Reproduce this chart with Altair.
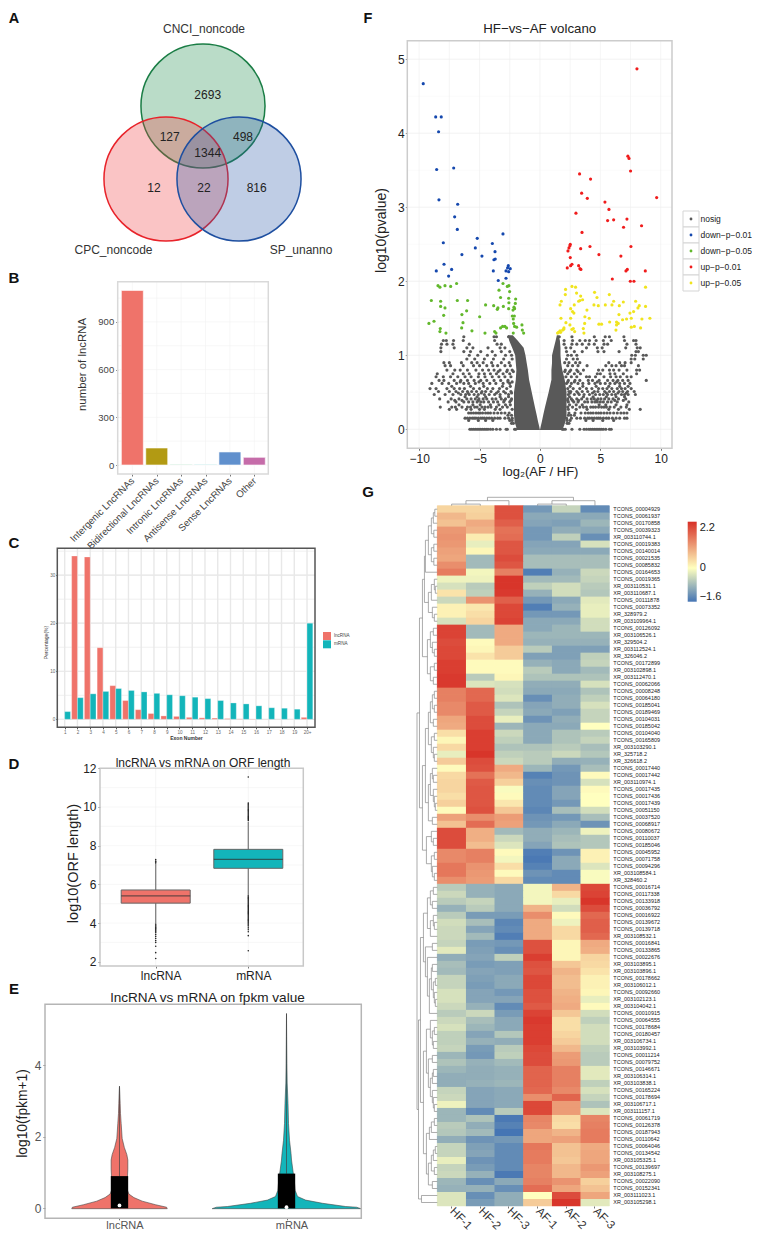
import altair as alt
import pandas as pd

FONT = "Liberation Sans"

# ---------- A: Venn ----------
venn_sets = ["CNCI_noncode", "CPC_noncode", "SP_unanno"]
venn_counts = ["2693", "127", "498", "1344", "12", "22", "816"]

# ---------- B ----------
b_cats = ["Intergenic LncRNAs", "Bidirectional LncRNAs", "Intronic LncRNAs",
          "Antisense LncRNAs", "Sense LncRNAs", "Other"]
b_vals = [1098, 107, 2, 2, 82, 48]
b_cols = ["#EF736A", "#B29A13", "#3DBB77", "#26BDB9", "#6090CD", "#C56CA9"]

# ---------- C ----------
c_cats = [str(i) for i in range(1, 20)] + ["20+"]
c_lnc = [0, 34, 33.8, 14.9, 7, 3.9, 2, 1.2, 0.7, 0.6, 0.4, 0.3, 0.25, 0.15, 0.08, 0.06, 0.03, 0.03, 0.02, 0.4]
c_mrna = [1.6, 4.5, 5.3, 5.8, 6.4, 6, 5.7, 5.4, 5.1, 4.9, 4.6, 4.3, 3.9, 3.4, 3.2, 2.8, 2.4, 2.3, 2.1, 20]

# ---------- D ----------
d_cats = ["lncRNA", "mRNA"]
d_q1 = [5.03, 6.83]
d_med = [5.40, 7.29]
d_q3 = [5.71, 7.81]
d_lo = [4.0, 5.4]
d_hi = [7.05, 9.24]
d_out_lnc = [7.1, 7.15, 7.2, 7.28, 3.95, 3.9, 3.85, 3.8, 3.75, 3.7, 3.65, 3.6, 3.55, 3.5, 3.4, 3.3, 3.2, 3.1, 3.0, 2.8, 2.47, 2.17]
d_out_mrna = [9.3, 9.35, 9.4, 9.45, 9.5, 9.55, 9.6, 9.65, 9.7, 9.75, 9.8, 9.85, 9.9, 9.95, 10.0, 10.05, 10.1, 10.15, 10.2, 11.55,
              5.4, 5.35, 5.3, 5.25, 5.2, 5.15, 5.1, 5.05, 5.0, 4.95, 4.9, 4.85, 4.8, 4.75, 4.7, 4.65, 4.6, 4.55, 4.5, 4.45,
              4.4, 4.35, 4.3, 4.25, 4.2, 4.15, 4.1, 4.05, 4.0, 3.95, 3.9, 3.85, 3.75, 3.65, 3.55, 3.35, 2.57]

# ---------- E ----------
e_lnc_y = [-0.01, 0.03, 0.1, 0.2, 0.3, 0.4, 0.5, 0.7, 0.9, 1.1, 1.35, 1.5, 1.7, 1.95, 2.37, 2.65, 2.93, 3.2, 3.41]
e_lnc_w = [0.286, 0.282, 0.216, 0.136, 0.086, 0.056, 0.048, 0.048, 0.048, 0.05, 0.05, 0.044, 0.029, 0.016, 0.010, 0.006, 0.004, 0.002, 0]
e_mrna_y = [-0.01, 0.03, 0.05, 0.14, 0.23, 0.33, 0.5, 0.7, 0.93, 1.35, 1.53, 1.9, 2.37, 2.93, 3.5, 4.05, 4.8, 5.44]
e_mrna_w = [0.445, 0.42, 0.354, 0.216, 0.114, 0.066, 0.052, 0.048, 0.042, 0.03, 0.027, 0.018, 0.012, 0.009, 0.004, 0.0024, 0.001, 0]
e_q3 = [0.9, 0.97]
e_med = [0.08, 0.03]
e_top = [3.41, 5.44]

# ---------- F: volcano ----------
f_blue = [(-9.66,4.67),(-8.63,4.22),(-8.17,4.22),(-8.39,4.02),(-8.55,3.51),(-7.14,3.53),(-8.36,3.10),(-6.81,3.04),
          (-7.06,2.87),(-6.84,2.70),(-5.19,2.58),(-3.06,2.64),(-8.0,2.52),(-5.35,2.45),(-3.94,2.51),(-3.72,2.40),
          (-6.46,2.36),(-4.8,2.34),(-3.70,2.30),(-3.81,2.29),(-7.94,2.23),(-2.62,2.21),(-8.58,2.14),(-7.31,2.16),
          (-3.86,2.14),(-2.68,2.18),(-2.46,2.17),(-2.81,2.14),(-2.59,2.13),(-7.56,2.07),(-2.81,2.04),(-3.45,2.01)]
f_red = [(8.03,4.87),(7.28,3.69),(7.37,3.66),(7.5,3.49),(3.28,3.45),(4.19,3.38),(3.45,3.19),(3.92,3.12),(9.66,3.13),
         (5.38,3.07),(5.71,2.97),(2.98,2.92),(5.6,2.82),(6.1,2.83),(7.2,2.84),(8.41,2.75),(6.92,2.73),(3.48,2.66),
         (2.51,2.50),(2.48,2.48),(4.14,2.47),(3.37,2.44),(2.4,2.45),(2.32,2.41),(7.53,2.47),(4.88,2.36),(6.7,2.34),
         (2.51,2.32),(2.65,2.23),(2.54,2.21),(3.2,2.21),(2.26,2.18),(3.31,2.17),(3.39,2.16),(7.23,2.16),(7.12,2.14),
         (8.72,2.14),(5.99,2.03),(7.48,2.0),(7.78,2.0)]
f_green = [(-8.44,1.94),(-8.28,1.92),(-7.86,1.94),(-7.39,1.93),(-6.90,1.97),(-8.99,1.74),(-8.22,1.73),(-6.84,1.74),
           (-5.99,1.74),(-8.22,1.66),(-7.86,1.64),(-6.07,1.60),(-6.46,1.55),(-7.97,1.54),(-8.77,1.46),(-9.19,1.43),
           (-6.37,1.44),(-6.48,1.37),(-8.25,1.36),(-8.28,1.32),(-7.78,1.30),(-5.63,1.33),(-4.99,1.52),(-4.50,1.68),
           (-4.55,1.30),(-3.83,1.67),(-3.48,1.64),(-3.03,1.66),(-2.59,1.63),(-3.06,1.97),(-2.70,1.93),(-2.57,1.94),
           (-3.39,1.88),(-2.51,1.86),(-3.26,1.78),(-2.59,1.77),(-2.01,1.76),(-2.57,1.71),(-2.04,1.70),(-2.15,1.65),
           (-2.10,1.63),(-2.23,1.61),(-2.29,1.53),(-2.12,1.53),(-2.21,1.49),(-2.10,1.39),(-2.18,1.43),(-1.93,1.38),
           (-1.49,1.41),(-1.46,1.34),(-1.35,1.30),(-2.21,1.30),(-3.75,1.32),(-3.64,1.30),(-3.09,1.39),(-2.90,1.39),
           (-2.76,1.37),(-3.26,1.37),(-3.53,1.62)]
f_yellow = [(2.65,1.93),(2.95,1.92),(2.12,1.89),(2.10,1.82),(3.03,1.84),(3.37,1.80),(4.52,1.85),(5.74,1.82),(4.72,1.78),
            (1.77,1.73),(1.66,1.68),(3.53,1.75),(3.31,1.74),(3.20,1.73),(2.84,1.68),(2.54,1.63),(2.70,1.59),(2.81,1.57),
            (3.89,1.61),(3.72,1.52),(4.08,1.50),(4.47,1.68),(4.83,1.67),(5.41,1.68),(6.10,1.73),(5.96,1.68),(6.90,1.72),
            (7.92,1.73),(6.57,1.67),(8.22,1.67),(8.11,1.64),(8.74,1.66),(7.75,1.59),(7.45,1.57),(6.54,1.55),(5.77,1.45),
            (6.34,1.45),(6.48,1.43),(6.34,1.41),(6.84,1.48),(7.17,1.49),(7.56,1.50),(8.44,1.49),(9.10,1.50),(7.56,1.38),
            (7.81,1.39),(8.33,1.37),(6.29,1.34),(4.88,1.42),(5.10,1.42),(3.70,1.43),(2.54,1.50),(1.74,1.50),(2.15,1.44),
            (1.99,1.37),(1.88,1.34),(2.65,1.35),(2.76,1.36),(2.48,1.41),(2.87,1.32),(3.64,1.30),(1.66,1.33),(1.54,1.31),
            (1.71,1.31),(1.46,1.30),(1.96,1.35),(3.59,1.36),(8.74,1.92)]
# grey points too dense to separate form a solid core: (log10p, left edge, right edge)
f_core_left = [(-0.01,-1.9,0.0),(0.05,-2.0,-0.08),(0.1,-2.1,-0.15),(0.2,-2.15,-0.28),(0.3,-2.15,-0.42),(0.5,-2.15,-0.68),
               (0.67,-2.0,-0.9),(0.8,-1.95,-1.0),(0.9,-2.0,-1.1),(1.0,-2.05,-1.2),(1.1,-2.3,-1.35),(1.2,-2.55,-1.85),(1.27,-2.65,-2.25)]
f_core_right = [(-0.01,0.0,1.85),(0.05,0.08,2.0),(0.1,0.15,2.1),(0.2,0.28,2.2),(0.3,0.42,2.2),(0.5,0.72,2.2),
                (0.67,0.95,2.05),(0.8,0.95,1.85),(0.9,1.0,1.75),(1.0,1.0,1.7),(1.1,1.15,1.7),(1.2,1.3,1.65),(1.27,1.4,1.55)]
# scattered grey points, row by row: log10p -> log2FC values
f_grey_rows = {
    0.0: [-5.8,-5.65,-5.5,-5.35,-5.2,-5.05,-4.9,-4.75,-4.6,-4.45,-4.3,-4.1,-3.9,-3.6,-3.3,-2.8,-2.7,-2.1,-2.0,
          1.85,1.95,2.1,2.65,3.3,3.65,3.85,4.05,4.2,4.35,4.5,4.65,4.8,4.95,5.1,5.25,5.45,5.75,5.9],
    0.08: [-2.35,-2.2,2.25,2.4],
    0.12: [-2.5,-2.3,-5.9,-5.1,-4.5,-3.9,2.25,2.5,3.8,4.4,5.2,6.1],
    0.15: [-6.2,-6.0,-5.8,-5.6,-5.45,-5.3,-5.1,-4.9,-4.75,-4.6,-4.4,-4.2,-4.0,-3.75,-3.5,-3.3,-2.9,-2.6,-2.3,
           2.2,2.6,3.05,3.35,3.7,3.95,4.1,4.3,4.5,4.7,4.85,5.0,5.25,5.5,5.7,6.0,6.3,6.6,7.0,7.2],
    0.19: [-2.65,-2.35,2.35,2.55,2.85],
    0.22: [-5.9,-5.7,-5.5,-5.3,-5.1,-4.95,-4.75,-4.5,-4.3,-4.1,-3.8,-3.5,-3.2,-2.9,-2.55,
           2.4,2.9,3.4,3.75,4.0,4.2,4.4,4.65,4.85,5.05,5.3,5.55,5.8,6.1,6.4,6.7,6.95,7.2],
    0.27: [-7.5,-6.9,-6.1,-5.7,-5.0,-4.6,-3.7,-3.3,-2.3,2.35,3.0,3.9,5.7,6.5,7.4,8.3],
    0.3: [-8.25,-7.3,-7.0,-6.45,-6.0,-5.75,-5.4,-5.2,-4.8,-4.55,-4.3,-4.05,-3.6,-3.1,-2.7,
          2.3,2.7,3.3,3.6,3.85,4.2,4.4,4.6,4.85,5.1,5.3,5.5,5.8,6.15,6.7,7.15],
    0.33: [-6.7,-5.55,-4.95,-4.1,-3.4,-2.85,-2.45,2.45,3.0,3.5,4.9,5.45,6.3,7.2],
    0.37: [-7.6,-6.95,-6.3,-5.9,-5.55,-5.2,-4.9,-4.65,-4.25,-3.85,-3.5,-3.0,-2.5,
           2.35,2.8,3.15,3.7,3.95,4.3,4.55,4.75,5.0,5.25,5.6,5.9,6.4,7.35],
    0.39: [-7.05,-6.45,-5.1,-2.95,-2.4,2.3,2.7,3.2,4.7,6.2,6.9],
    0.41: [-8.3,-7.35,-6.7,-6.05,-5.7,-5.35,-5.05,-4.7,-4.4,-3.95,-3.65,-3.2,-2.85,-2.35,
           2.3,2.6,3.05,3.45,3.9,4.25,4.5,4.8,5.05,5.35,5.7,6.05,6.5,7.1],
    0.44: [-6.2,-5.2,-4.5,-3.3,-2.6,2.45,3.6,4.4,5.5,6.3,7.0],
    0.47: [-8.75,-7.85,-7.2,-6.55,-6.15,-5.85,-5.45,-5.1,-4.6,-4.2,-3.75,-3.3,-2.6,
           2.35,2.85,3.25,3.65,4.1,4.6,4.95,5.25,5.6,5.95,6.25,6.75,7.0,7.3,7.9],
    0.49: [-6.75,-5.95,-4.85,-3.6,-2.85,-2.35,2.5,3.15,4.35,5.5,6.45,7.15],
    0.51: [-8.4,-7.5,-6.95,-6.4,-6.0,-5.65,-5.25,-4.8,-4.5,-4.05,-3.45,-3.0,-2.4,
           2.4,2.55,3.05,3.5,3.95,4.5,4.8,5.35,5.75,6.1,6.55,6.85,7.25,7.8],
    0.55: [-9.1,-8.6,-7.7,-7.1,-6.65,-6.25,-5.5,-5.0,-4.35,-3.9,-3.35,-2.75,
           2.3,2.75,3.3,3.85,4.3,4.85,5.2,5.55,5.95,6.4,6.75,7.05,7.55],
    0.58: [-7.3,-5.75,-4.65,-3.1,-2.45,2.5,3.55,4.65,5.7,6.6,7.3],
    0.62: [-8.95,-8.1,-7.55,-6.9,-6.3,-5.9,-5.35,-4.7,-4.15,-3.65,-3.05,-2.5,
           2.2,2.6,3.15,3.55,4.05,4.55,5.0,5.4,5.8,6.2,6.6,7.0,7.45],
    0.64: [-2.3,-2.65,-6.6,-5.05,2.3,2.85,4.75,6.35],
    0.66: [-8.35,-7.95,-7.1,-6.55,-6.0,-5.45,-4.9,-4.4,-3.8,-3.25,-2.65,
           2.35,2.9,3.3,4.0,4.35,4.9,5.6,6.05,6.45,6.85,7.3,8.8],
    0.71: [-8.6,-8.0,-7.4,-6.8,-6.2,-5.7,-5.1,-4.55,-3.95,-3.4,-2.9,-2.4,
           2.15,2.6,3.05,3.85,4.1,4.6,5.3,5.85,6.3,6.65,7.2,7.55],
    0.75: [-8.5,-7.2,-6.35,-5.85,-5.05,-4.6,-4.1,-3.6,-3.05,-2.5,
           2.3,2.85,3.35,4.75,5.0,5.8,6.2,6.9,8.0],
    0.78: [-2.2,-2.75,-3.45,2.05,2.45,3.15],
    0.8: [-7.7,-7.05,-6.6,-6.0,-5.3,-4.75,-4.25,-3.8,-3.3,-2.7,-2.3,
          2.1,2.55,3.05,3.6,4.85,5.2,5.75,6.1,6.55,7.2,8.0,8.25],
    0.86: [-7.85,-7.4,-6.35,-5.5,-5.0,-4.4,-3.9,-3.5,-2.9,-2.45,
           2.3,2.7,3.15,3.9,5.45,5.95,6.3,6.75,7.0,8.15],
    0.9: [-7.95,-7.5,-6.5,-5.65,-5.2,-4.7,-4.0,-3.2,-2.55,
          2.05,2.4,2.95,3.3,5.7,6.6,7.05,7.55],
    0.95: [-6.05,-5.4,-4.6,-3.85,-3.0,-2.3,2.2,2.75,3.1,7.55,7.85,8.55],
    1.0: [-5.85,-5.15,-4.35,-3.7,-2.85,-2.35,2.3,2.6,3.05,7.6,7.9,8.8,8.55],
    1.05: [-8.2,-6.3,-5.75,-4.9,-3.95,-3.2,-2.5,2.2,2.85,3.5,4.8,5.3,6.55,7.95,8.15],
    1.1: [-8.2,-7.1,-6.05,-5.55,-4.3,-3.3,-2.9,2.15,2.55,3.85,4.75,5.15,7.1,8.05,8.3],
    1.15: [-8.15,-7.7,-7.2,-5.85,-3.55,-3.2,2.0,2.65,3.05,3.5,4.05,4.5,5.3,5.6,7.2,7.95],
    1.2: [-8.0,-7.75,-7.15,-6.35,-3.75,2.0,2.7,3.3,3.75,4.1,4.65,5.25,5.9,7.0,7.75,7.95],
    1.25: [-6.3,-3.8,-3.6,-2.6,1.6,2.65,4.5,5.4,5.75,6.95],
}

# ---------- G: heatmap ----------
g_cols = ["HF-1", "HF-2", "HF-3", "AF-1", "AF-2", "AF-3"]
g_rows = [
 ("TCONS_00004929",.45,.45,1.85,-1.2,-.5,-1.35),("TCONS_00061937",.75,.5,1.85,-1.0,-1.0,-1.0),
 ("TCONS_00170858",.65,.9,1.7,-1.05,-1.1,-.85),("TCONS_00039323",1.1,.8,1.5,-1.2,-.95,-1.0),
 ("XR_003110744.1",1.15,.2,1.55,-1.2,-.55,-1.3),("TCONS_00019383",1.1,-.2,1.8,-1.05,-1.05,-.35),
 ("TCONS_00140014",1.0,.1,1.8,-1.0,-1.0,-1.0),("TCONS_00021535",.95,-.8,1.9,-.75,-.75,-.75),
 ("TCONS_00085832",1.2,-.8,1.8,-.75,-.75,-.75),("TCONS_00164653",1.4,-.1,1.35,-1.5,-.9,-.45),
 ("TCONS_00019365",-.15,-.15,2.15,-.8,-.8,-.5),("XR_003110531.1",-.35,-.6,2.15,-.55,-.4,-.6),
 ("XR_003110687.1",.3,-.55,2.1,-.9,-.4,-.65),("TCONS_00111878",-.45,1.15,1.7,-1.2,-1.0,-.25),
 ("TCONS_00073352",.15,.25,1.95,-1.5,-.9,-.2),("XR_328979.2",.15,.35,1.95,-1.2,-1.2,-.2),
 ("XR_003109964.1",-.35,.45,2.0,-1.0,-1.0,-.4),("TCONS_00126092",2.0,-.8,.9,-1.0,-.85,-.4),
 ("XR_003106526.1",2.0,-.8,.9,-.85,-.85,-.85),("XR_329504.2",1.9,.05,.9,-.9,-.9,-.9),
 ("XR_003112524.1",1.95,.1,.55,-.6,-1.1,-1.1),("XR_326046.2",1.95,.3,.55,-1.1,-1.1,-.55),
 ("TCONS_00172899",2.05,.05,.05,-.9,-1.0,-.5),("XR_003102898.1",2.05,.05,.05,-.6,-1.0,-.8),
 ("XR_003112470.1",2.1,-.6,.1,-.7,-.7,-.7),("TCONS_00062066",2.1,-.3,-.35,-.95,-.95,-.35),
 ("TCONS_00008248",1.35,1.6,-.4,-1.0,-1.0,-.7),("TCONS_00064180",1.35,1.6,-.3,-1.3,-.95,-.55),
 ("TCONS_00185041",1.25,1.75,-.7,-1.05,-.95,-.35),("TCONS_00189469",1.25,1.75,-.5,-1.0,-1.1,-.5),
 ("TCONS_00104031",.95,1.9,-.2,-1.25,-.95,-.5),("TCONS_00185042",.9,1.9,-.85,-1.0,-1.0,.0),
 ("TCONS_00104040",.35,2.05,-.45,-1.0,-.7,-.6),("TCONS_00165809",.1,2.05,-.55,-1.0,-.7,-.5),
 ("XR_003103290.1",.4,2.05,-.7,-.7,-.6,-.75),("XR_325718.2",-.2,2.15,-.55,-.6,-.45,-.65),
 ("XR_326618.2",.55,1.9,-.45,-.6,-.95,-.9),("TCONS_00017440",.05,1.85,.9,-.85,-1.2,-.75),
 ("TCONS_00017442",.4,1.5,.75,-1.45,-1.25,.05),("XR_003110974.1",.45,1.75,.5,-1.3,-1.25,-.35),
 ("TCONS_00017435",.45,1.8,-.05,-1.35,-1.05,.05),("TCONS_00017436",.35,1.8,.05,-1.35,-1.05,0),
 ("TCONS_00017439",.5,1.8,.25,-1.35,-1.2,.0),("TCONS_00051150",.05,1.85,.6,-1.4,-.75,-.4),
 ("TCONS_00037520",1.0,1.2,1.05,-1.25,-1.2,-.75),("TCONS_00068917",.65,1.55,1.0,-1.2,-1.0,-1.25),
 ("TCONS_00080672",1.9,.85,-.8,-.95,-.85,-.15),("TCONS_00110037",1.9,.85,-.45,-.95,-.75,-.65),
 ("TCONS_00185046",1.9,.7,-.3,-1.05,-.7,-.65),("TCONS_00045952",1.25,1.35,.05,-1.5,-1.25,.15),
 ("TCONS_00071758",1.25,1.35,-.1,-1.55,-1.0,.15),("TCONS_00094296",1.45,1.15,.35,-1.45,-1.0,-.3),
 ("XR_003108584.1",1.45,1.1,.05,-1.25,-1.35,-.05),("XR_328460.2",1.2,1.05,.4,-1.35,-1.35,-.05),
 ("TCONS_00016714",-.6,-.9,-1.0,-.1,.8,1.95),("TCONS_00117338",-.45,-.9,-1.0,-.1,.4,2.0),
 ("TCONS_00133918",-.6,-.5,-1.0,-.1,-.2,2.15),("TCONS_00036792",-.9,-.6,-1.0,.8,-.4,1.9),
 ("TCONS_00016922",-.6,-1.15,-1.15,1.2,.05,1.6),("TCONS_00139672",-.4,-.75,-1.4,.9,-.15,1.7),
 ("TCONS_00139718",-.45,-1.05,-1.35,.9,.4,1.7),("XR_003108532.1",-.45,-.8,-1.5,.9,.4,1.6),
 ("TCONS_00016841",-.5,-1.15,-1.2,1.85,.1,.9),("TCONS_00133865",-.25,-1.1,-1.3,1.85,.1,.85),
 ("TCONS_00022676",-.95,-1.05,-.55,2.05,.1,.45),("XR_003103895.1",-.75,-1.15,-1.1,1.85,.6,.4),
 ("XR_003103896.1",-.8,-1.05,-1.1,1.8,.8,.3),("TCONS_00178662",-.5,-1.1,-1.0,1.95,.7,.15),
 ("XR_003106012.1",-.5,-1.15,-1.0,1.95,.7,.15),("TCONS_00092660",-.35,-1.05,-1.2,1.85,.8,.1),
 ("XR_003102123.1",-.35,-1.05,-1.05,1.85,.85,-.2),("XR_003104042.1",-.45,-.9,-1.35,1.75,.9,.05),
 ("TCONS_00010915",-.6,-.45,-1.15,2.0,.6,-.4),("TCONS_00064555",-.45,-.75,-1.0,2.1,.35,-.55),
 ("TCONS_00178684",-.35,-.85,-1.0,2.05,.35,-.4),("TCONS_00180457",-.55,-1.05,-.65,2.05,.45,-.4),
 ("XR_003106734.1",-.55,-.9,-.95,2.05,.55,-.4),("XR_003103992.1",-.5,-1.15,-.6,1.95,.75,-.55),
 ("TCONS_00011214",-.85,-1.2,-.55,1.9,1.05,-.6),("TCONS_00079752",-.7,-.9,-.8,1.9,1.1,-.6),
 ("TCONS_00146671",-.85,-.95,-.9,1.65,1.35,-.25),("XR_003106314.1",-.95,-.95,-.9,1.65,1.35,-.25),
 ("XR_003103838.1",-.95,-.9,-.85,1.65,1.35,-.55),("TCONS_00165224",-.5,-1.05,-1.0,1.6,1.25,-.35),
 ("TCONS_00178694",-.45,-1.05,-1.0,1.2,1.65,-.5),("XR_003106717.1",-.15,-1.05,-1.0,1.95,1.05,-.7),
 ("XR_003111157.1",-.85,-1.35,-.6,1.95,1.05,-.3),("TCONS_00061719",-.85,-.7,-1.55,1.3,.4,1.3),
 ("TCONS_00126378",-.6,-.95,-1.45,1.25,.35,1.35),("TCONS_00187943",-.65,-.8,-1.6,.95,.8,1.4),
 ("TCONS_00110642",-.95,-1.25,-1.2,.95,1.0,1.4),("TCONS_00064046",-.5,-1.1,-1.35,1.45,.65,.9),
 ("TCONS_00134542",-.5,-1.05,-1.35,1.4,.65,.95),("XR_003105325.1",-.2,-1.25,-1.35,1.4,.6,.95),
 ("TCONS_00139697",-.5,-1.15,-1.35,1.3,.75,1.1),("XR_003108275.1",-.45,-.9,-1.55,1.3,.75,1.0),
 ("TCONS_00022090",-.85,-1.3,-1.0,1.35,1.15,.5),("TCONS_00152341",-.9,-.9,-1.3,1.55,.95,.65),
 ("XR_003111023.1",-.3,-1.3,-.95,0.0,1.9,.95),("XR_003105298.1",-.3,-1.15,-.95,.55,2.15,-.25),
]
T0 = (12,(9,(6,(4,(2.5,0,1),2),(3.5,3,4)),(6,(3.5,5,6),(3.5,7,8))),9)
T1 = (9,(6,(3,10,(2,11,12)),13),(5,14,(3,15,16)))
T2 = (10,(7,(4,17,18),(5,19,(3,20,21))),(7,(3,22,23),(4,24,25)))
T3 = (9,(7,(5,(3,26,27),(3,28,29)),(4,30,31)),(6,(3,32,33),(4,34,(3,35,36))))
T4 = (9,(7,(5,37,(4,38,39)),(4,40,(3,41,(2,42,43)))),(5,44,45))
T5 = (11,(6,46,(4,47,48)),(6,(3,49,50),(5,51,(3,52,53))))
T6 = (10,(7,(4,54,55),(5,56,57)),(7,(4,58,(3,59,60)),61))
T7 = (12,(5,62,63),(10,64,(8,(6,(5,65,66),(4,(2,67,68),(3,69,(2,70,71)))),72)))
T8 = (11,(7,73,(5,(3,74,75),(4,76,77))),(9,(5,78,79),(7,(5,(4,80,81),82),(5,83,(4,84,(3,85,86))))))
T9 = (11,(8,(6,(3,87,88),89),90),(9,(6,(4,(2,91,92),93),(3,94,95)),(5,96,97)))
T10 = (16,98,99)
g_row_tree = (20.5,(18,(15,(13,T0,T1),T2),(15,(12,T3,T4),T5)),(19,(17,(14,T6,T7),(14,T8,T9)),T10))
g_col_tree = (8.4,(5,(1.6,0,1),2),(5,(1.6,3,4),5))

CANVAS_W = 744
CANVAS_H = 1223


# ---------- helpers ----------
def P(a, b):
    """page pixels -> canvas pixels for a scale range"""
    return [a - 8, b - 8]


def qs(dom, a, b, **kw):
    return alt.Scale(domain=dom, range=P(a, b), nice=False, zero=False, **kw)


def left_axis(x, **kw):
    kw.setdefault("grid", False)
    kw.setdefault("domain", False)
    return alt.Axis(orient="left", offset=-(x - 8), **kw)


def bottom_axis(y, **kw):
    kw.setdefault("grid", False)
    kw.setdefault("domain", False)
    return alt.Axis(orient="bottom", offset=-(CANVAS_H + 8 - y), **kw)


ONE = alt.Data(values=[{"a": 1}])


def axes_of(xenc, yenc):
    """an invisible unit carrying a panel's two axes on that panel's scales"""
    return alt.Chart(ONE).mark_point(opacity=0, size=1).encode(x=xenc, y=yenc)


def frame(l, t, r, b, stroke, w=1.5):
    return alt.Chart(ONE).mark_rect(fill=None, filled=False, stroke=stroke, strokeWidth=w).encode(
        x=alt.value(l - 8), x2=alt.value(r - 8), y=alt.value(t - 8), y2=alt.value(b - 8))


def hgrid(vals, yscale, l, r, color, w=0.6):
    return alt.Chart(pd.DataFrame({"v": vals})).mark_rule(color=color, strokeWidth=w).encode(
        y=alt.Y("v:Q", scale=yscale, axis=None, title=None), x=alt.value(l - 8), x2=alt.value(r - 8))


def notes(rows, weight="normal"):
    """rows: text, page x, page baseline y, font size, colour"""
    df = pd.DataFrame(rows, columns=["t", "px", "py", "s", "c"])
    df["px"] -= 8
    df["py"] -= 8
    return alt.Chart(df).mark_text(align="center", baseline="alphabetic", fontWeight=weight, font=FONT).encode(
        x=alt.X("px:Q", scale=None, axis=None), y=alt.Y("py:Q", scale=None, axis=None),
        text="t:N", size=alt.Size("s:Q", scale=None, legend=None), color=alt.Color("c:N", scale=None, legend=None))


def circle(cx, cy, r, fill, stroke):
    return alt.Chart(ONE).mark_circle(fill=fill, fillOpacity=0.3, stroke=stroke, strokeOpacity=1, strokeWidth=1.5, opacity=1).encode(
        x=alt.value(cx - 8), y=alt.value(cy - 8), size=alt.value(3.14159 * r * r))


# ---------- A ----------
panel_a = alt.layer(
    circle(203, 106, 70, "#1a8a4a", "#1a7d45"),
    circle(166, 179, 70, "#ee3a3f", "#e8232a"),
    circle(239, 179, 70, "#2a59a8", "#1e4fa0"),
)
a_notes = notes([
    (venn_sets[0], 204, 33, 12, "#333333"), (venn_sets[1], 113.5, 254, 12, "#333333"), (venn_sets[2], 301, 254, 12, "#333333"),
    (venn_counts[0], 207.7, 98.5, 12, "#222222"), (venn_counts[1], 169.7, 141, 12, "#222222"),
    (venn_counts[2], 243, 141, 12, "#222222"), (venn_counts[3], 207.7, 156.5, 12, "#222222"),
    (venn_counts[4], 154, 191.5, 12, "#222222"), (venn_counts[5], 204, 191.5, 12, "#222222"),
    (venn_counts[6], 256.7, 191.5, 12, "#222222"),
])

# ---------- B ----------
by = qs([-56.6, 1153], 474, 281.7)
bx = alt.Scale(domain=b_cats, range=P(120.15, 266.5), paddingInner=0.1, paddingOuter=0.05)
b_df = pd.DataFrame({"cat": b_cats, "n": b_vals})
panel_b = alt.layer(
    hgrid([0, 150, 300, 450, 600, 750, 900, 1050], by, 118, 268, "#f1f1f1"),
    alt.Chart(pd.DataFrame({"cat": b_cats})).mark_rule(color="#f1f1f1", strokeWidth=0.6).encode(
        x=alt.X("cat:N", scale=bx, axis=None), y=alt.value(281.7 - 8), y2=alt.value(474 - 8)),
    alt.Chart(b_df).mark_bar(stroke="#ffffff", strokeWidth=0.6).encode(
        x=alt.X("cat:N", scale=bx, sort=b_cats, axis=None),
        y=alt.Y("n:Q", scale=by, stack=None, axis=None),
        color=alt.Color("cat:N", scale=alt.Scale(domain=b_cats, range=b_cols), legend=None)),
    frame(117.7, 281.7, 268.3, 474, "#d9d9d9"),
)
axes_b = axes_of(
    alt.X("a:N", scale=bx, axis=bottom_axis(474, title=None, labelAngle=-45, labelAlign="right", labelBaseline="middle",
                                            labelFontSize=9.7, labelColor="#444444", tickSize=2, tickColor="#777777",
                                            labelPadding=3, labelLimit=0)),
    alt.Y("a:Q", scale=by, axis=left_axis(117.7, title="number of lncRNA", values=[0, 300, 600, 900], titleFontSize=11.4,
                                          titleFontWeight="normal", titleColor="#333333", labelFontSize=9.5,
                                          labelColor="#444444", tickSize=2, tickColor="#777777", labelPadding=2,
                                          titleX=87 - 117.7, titleY=364 - 8)))

# ---------- C ----------
cy = qs([-1.67, 35.6], 727.3, 548.3)
cx = alt.Scale(domain=c_cats, range=P(58.3, 313.4), paddingInner=0.09, paddingOuter=0.045)
c_df = pd.DataFrame({"exon": c_cats * 2, "pct": c_lnc + c_mrna, "type": ["lncRNA"] * 20 + ["mRNA"] * 20})
panel_c = alt.layer(
    hgrid([0, 10, 20, 30], cy, 57.3, 315, "#e4e4e4", 1.2),
    hgrid([5, 15, 25, 35], cy, 57.3, 315, "#ececec", 0.8),
    alt.Chart(pd.DataFrame({"exon": c_cats})).mark_rule(color="#e8e8e8", strokeWidth=1.4).encode(
        x=alt.X("exon:N", scale=cx, axis=None), y=alt.value(548.3 - 8), y2=alt.value(727.3 - 8)),
    alt.Chart(c_df).mark_bar(stroke="#ffffff", strokeWidth=0.3).encode(
        x=alt.X("exon:N", scale=cx, sort=c_cats, axis=None),
        xOffset=alt.XOffset("type:N", scale=alt.Scale(domain=["lncRNA", "mRNA"])),
        y=alt.Y("pct:Q", scale=cy, stack=None, axis=None),
        color=alt.Color("type:N", scale=alt.Scale(domain=["lncRNA", "mRNA"], range=["#EF736A", "#13B5BA"]),
                        legend=alt.Legend(orient="none", legendX=323 - 8, legendY=632 - 8, title=None, symbolType="square",
                                          symbolSize=64, labelFontSize=4.6, labelColor="#444444", rowPadding=0.3,
                                          symbolStrokeWidth=0, labelOffset=3, labelFont=FONT))),
    frame(57.3, 548.3, 315, 727.3, "#555555"),
)
axes_c = axes_of(
    alt.X("a:N", scale=cx, axis=bottom_axis(727.3, title="Exon Number", labelAngle=0, labelFontSize=4.6, labelColor="#666666",
                                            tickSize=1.5, tickColor="#555555", labelPadding=1, titleFontSize=5,
                                            titleColor="#333333", titleFontWeight="bold", titleX=186 - 8, titleY=8)),
    alt.Y("a:Q", scale=cy, axis=left_axis(57.3, title="Percentage(%)", values=[0, 10, 20, 30], labelFontSize=4.6,
                                          labelColor="#666666", tickSize=1.5, tickColor="#555555", labelPadding=1,
                                          titleFontSize=5, titleColor="#333333", titleFontWeight="normal",
                                          titleX=48 - 57.3, titleY=642 - 8)))

# ---------- D ----------
dy = qs([1.78, 12], 966, 768.3)
dx = alt.Scale(domain=d_cats, range=P(109.4, 294.6), paddingInner=0, paddingOuter=0)
d_df = pd.DataFrame({"k": d_cats, "q1": d_q1, "med": d_med, "q3": d_q3, "lo": d_lo, "hi": d_hi})
d_out = pd.DataFrame({"k": ["lncRNA"] * len(d_out_lnc) + ["mRNA"] * len(d_out_mrna), "v": d_out_lnc + d_out_mrna})
d_fills = alt.Color("k:N", scale=alt.Scale(domain=d_cats, range=["#EF736A", "#13B5BA"]), legend=None)
panel_d = alt.layer(
    hgrid([3, 4, 5, 6, 7, 8, 9, 10, 11], dy, 100, 303, "#f2f2f2"),
    alt.Chart(pd.DataFrame({"k": d_cats})).mark_rule(color="#eeeeee", strokeWidth=0.6).encode(
        x=alt.X("k:N", scale=dx, axis=None), y=alt.value(768.3 - 8), y2=alt.value(966 - 8)),
    alt.Chart(d_df).mark_rule(color="#808080", strokeWidth=1.3).encode(
        x=alt.X("k:N", scale=dx, axis=None), y=alt.Y("lo:Q", scale=dy, axis=None), y2="hi:Q"),
    alt.Chart(d_out).mark_circle(color="#222222", size=2.5, opacity=1).encode(
        x=alt.X("k:N", scale=dx, axis=None), y=alt.Y("v:Q", scale=dy, axis=None)),
    alt.Chart(d_df).mark_bar(size=69, stroke="#666666", strokeWidth=1).encode(
        x=alt.X("k:N", scale=dx, sort=d_cats, axis=None),
        y=alt.Y("q1:Q", scale=dy, axis=None),
        y2="q3:Q", color=d_fills),
    alt.Chart(d_df).mark_tick(size=69, thickness=1.3, color="#333333").encode(
        x=alt.X("k:N", scale=dx, axis=None), y=alt.Y("med:Q", scale=dy, axis=None)),
    frame(100, 768.3, 303.3, 966, "#c8c8c8"),
)
axes_d = axes_of(
    alt.X("a:N", scale=dx, axis=bottom_axis(966, title=None, labelAngle=0, labelFontSize=12, labelColor="#222222", tickSize=2,
                                            tickColor="#777777", labelOffset=5, labelPadding=2)),
    alt.Y("a:Q", scale=dy, axis=left_axis(100, title="log10(ORF length)", values=[2, 4, 6, 8, 10, 12], titleFontSize=14.5,
                                          titleFontWeight="normal", titleColor="#222222", labelFontSize=12,
                                          labelColor="#222222", tickSize=2, tickColor="#777777", labelPadding=2,
                                          titleX=80.5 - 100, titleY=863 - 8)))

# ---------- E ----------
ey = qs([-0.279, 5.7], 1218.3, 1004.3)
ex = qs([0.554, 2.446], 45, 361)
e_rows = []
for k, c, ys, ws in (("lncRNA", 1, e_lnc_y, e_lnc_w), ("mRNA", 2, e_mrna_y, e_mrna_w)):
    for y_, w_ in zip(ys, ws):
        e_rows.append({"k": k, "y": y_, "lo": c - w_, "hi": c + w_})
e_df = pd.DataFrame(e_rows)
e_box = pd.DataFrame({"c": [1, 2], "lo": [0.948, 1.948], "hi": [1.052, 2.052], "q3": e_q3, "b": [0, 0], "med": e_med, "top": e_top})
e_col = alt.Color("k:N", scale=alt.Scale(domain=d_cats, range=["#EF736A", "#13B5BA"]), legend=None)
panel_e = alt.layer(
    alt.Chart(e_df[e_df.k == "lncRNA"]).mark_area(orient="horizontal", stroke="#444444", strokeWidth=0.6).encode(
        x=alt.X("lo:Q", scale=ex, axis=None), x2="hi:Q",
        y=alt.Y("y:Q", scale=ey, axis=None), color=e_col),
    alt.Chart(e_df[e_df.k == "mRNA"]).mark_area(orient="horizontal", stroke="#444444", strokeWidth=0.6).encode(
        x=alt.X("lo:Q", scale=ex, axis=None), x2="hi:Q",
        y=alt.Y("y:Q", scale=ey, axis=None), color=e_col),
    alt.Chart(e_box).mark_rule(color="#444444", strokeWidth=0.7).encode(
        x=alt.X("c:Q", scale=ex, axis=None), y=alt.Y("q3:Q", scale=ey, axis=None), y2="top:Q"),
    alt.Chart(e_box).mark_rect(color="#000000").encode(
        x=alt.X("lo:Q", scale=ex, axis=None), x2="hi:Q",
        y=alt.Y("b:Q", scale=ey, axis=None), y2="q3:Q"),
    alt.Chart(e_box).mark_circle(color="#ffffff", size=14, opacity=1).encode(
        x=alt.X("c:Q", scale=ex, axis=None), y=alt.Y("med:Q", scale=ey, axis=None)),
    frame(45, 1004.3, 361.3, 1218.3, "#b5b5b5"),
)
axes_e = axes_of(
    alt.X("a:Q", scale=ex, axis=bottom_axis(1218.3, title=None, values=[1, 2],
                                            labelExpr="datum.value == 1 ? 'lncRNA' : 'mRNA'", labelFontSize=11,
                                            labelColor="#555555", tickSize=1.5, tickColor="#777777", labelOffset=5,
                                            labelPadding=0)),
    alt.Y("a:Q", scale=ey, axis=left_axis(45, title="log10(fpkm+1)", values=[0, 2, 4], titleFontSize=13.8,
                                          titleFontWeight="normal", titleColor="#222222", labelFontSize=12,
                                          labelColor="#555555", tickSize=2, tickColor="#777777", labelPadding=2,
                                          titleX=29 - 45, titleY=1113 - 8)))

# ---------- F ----------
fx = qs([-10.98, 10.93], 407.3, 672)
fy = qs([-0.257, 5.25], 448.3, 40.7)
f_groups = ["nosig", "down-p-0.01", "down-p-0.05", "up-p-0.01", "up-p-0.05"]
f_cols = ["#595959", "#1548AE", "#62B82C", "#F01C1C", "#F0E41E"]
f_pts = []
for y_, xs in f_grey_rows.items():
    f_pts += [{"x": x_, "y": y_, "g": "nosig"} for x_ in xs]
for name, pts in (("down-p-0.01", f_blue), ("down-p-0.05", f_green), ("up-p-0.01", f_red), ("up-p-0.05", f_yellow)):
    f_pts += [{"x": p[0], "y": p[1], "g": name} for p in pts]
f_core = pd.DataFrame(f_core_left, columns=["y", "a", "b"])
f_core2 = pd.DataFrame(f_core_right, columns=["y", "a", "b"])
f_scale = alt.Scale(domain=f_groups, range=f_cols)
panel_f = alt.layer(
    hgrid([0, 1, 2, 3, 4, 5], fy, 407.3, 672, "#ececec", 0.7),
    hgrid([0.5, 1.5, 2.5, 3.5, 4.5], fy, 407.3, 672, "#f4f4f4", 0.5),
    alt.Chart(pd.DataFrame({"v": [-10, -7.5, -5, -2.5, 0, 2.5, 5, 7.5, 10]})).mark_rule(color="#efefef", strokeWidth=0.6).encode(
        x=alt.X("v:Q", scale=fx, axis=None), y=alt.value(40.7 - 8), y2=alt.value(448.3 - 8)),
    alt.Chart(f_core).mark_area(orient="horizontal", color="#595959").encode(
        x=alt.X("a:Q", scale=fx, axis=None), x2="b:Q", y=alt.Y("y:Q", scale=fy, axis=None)),
    alt.Chart(f_core2).mark_area(orient="horizontal", color="#595959").encode(
        x=alt.X("a:Q", scale=fx, axis=None), x2="b:Q", y=alt.Y("y:Q", scale=fy, axis=None)),
    alt.Chart(pd.DataFrame(f_pts)).mark_circle(size=10, opacity=1).encode(
        x=alt.X("x:Q", scale=fx, axis=None),
        y=alt.Y("y:Q", scale=fy, axis=None),
        color=alt.Color("g:N", scale=f_scale, legend=None)),
    frame(407.3, 40.7, 672, 448.3, "#cccccc"),
)
axes_f = axes_of(
    alt.X("a:Q", scale=fx, axis=bottom_axis(448.3, title="log\u2082(AF / HF)", values=[-10, -5, 0, 5, 10], labelFontSize=12,
                                            labelColor="#222222", tickSize=2, tickColor="#777777", labelPadding=3,
                                            titleFontSize=13, titleFontWeight="normal", titleColor="#222222",
                                            titleX=540 - 8, titleY=465 - 448.3)),
    alt.Y("a:Q", scale=fy, axis=left_axis(407.3, title="log10(pvalue)", values=[0, 1, 2, 3, 4, 5], labelFontSize=12,
                                          labelColor="#222222", tickSize=2, tickColor="#777777", labelPadding=1,
                                          titleFontSize=14, titleFontWeight="normal", titleColor="#222222",
                                          titleX=388 - 407.3, titleY=230 - 8)))

# hand-built key, because the reference draws a box round every key
ky = alt.Scale(domain=f_groups, range=P(211, 291), paddingInner=0, paddingOuter=0)
k_df = pd.DataFrame({"g": f_groups})
panel_fkey = alt.layer(
    alt.Chart(k_df).mark_bar(size=16, fill="#ffffff", stroke="#d5d5d5", strokeWidth=1).encode(
        y=alt.Y("g:N", scale=ky, axis=None, sort=f_groups), x=alt.value(683 - 8), x2=alt.value(699 - 8)),
    alt.Chart(k_df).mark_circle(size=8, opacity=1).encode(
        y=alt.Y("g:N", scale=ky, axis=None, sort=f_groups), x=alt.value(691 - 8),
        color=alt.Color("g:N", scale=f_scale, legend=None)),
    alt.Chart(k_df).transform_calculate(lbl="replace(datum.g, /-/g, '\u2212')").mark_text(
        align="left", baseline="middle", fontSize=8.5, color="#222222", font=FONT).encode(
        y=alt.Y("g:N", scale=ky, axis=None, sort=f_groups), x=alt.value(700.5 - 8), text="lbl:N"),
)

# ---------- G ----------
g_ids = [r[0] for r in g_rows]
g_long = pd.DataFrame([{"row": r[0], "col": c, "v": r[i + 1]} for r in g_rows for i, c in enumerate(g_cols)])
gx = alt.Scale(domain=g_cols, range=P(437.3, 609.3), paddingInner=0, paddingOuter=0)
gy = alt.Scale(domain=g_ids, range=P(505.7, 1206), paddingInner=0, paddingOuter=0)
g_cscale = alt.Scale(domain=[-1.6, 0, 2.2], range=["#4575B4", "#FFFFBF", "#D73027"], interpolate="rgb")
# an under-layer with a thin outline of the same colour closes the hairline seams between cells
panel_g_under = alt.Chart(g_long).mark_rect(strokeWidth=0.5).encode(
    x=alt.X("col:N", scale=gx, sort=g_cols, axis=None),
    y=alt.Y("row:N", scale=gy, sort=g_ids, axis=None),
    stroke=alt.Stroke("v:Q", scale=g_cscale, legend=None),
    color=alt.Color("v:Q", scale=g_cscale, legend=None),
)
panel_g = alt.Chart(g_long).mark_rect().encode(
    x=alt.X("col:N", scale=gx, sort=g_cols,
            axis=bottom_axis(1206, title=None, labelAngle=45, labelAlign="left", labelBaseline="middle", labelFontSize=11.5,
                             labelColor="#333333", tickSize=2, tickColor="#777777", labelPadding=1.5)),
    y=alt.Y("row:N", scale=gy, sort=g_ids,
            axis=alt.Axis(orient="right", offset=-(CANVAS_W + 8 - 609.3), title=None, domain=False, grid=False, ticks=False,
                          labelFontSize=5.5, labelColor="#222222", labelPadding=3.5, labelOverlap=False, labelLimit=0)),
    color=alt.Color("v:Q", scale=g_cscale,
                    legend=alt.Legend(orient="none", legendX=687.7 - 8, legendY=521.7 - 8, title=None,
                                      gradientLength=80, gradientThickness=9, values=[-1.6, 0, 2.2],
                                      labelFontSize=11, labelColor="#222222", labelOffset=3, labelFont=FONT,
                                      gradientStrokeWidth=0, format=".1~f")),
)


def segments(node, rows_out):
    if not isinstance(node, tuple):
        return node, 0
    h, a, b = node
    pa, ha = segments(a, rows_out)
    pb, hb = segments(b, rows_out)
    rows_out.append({"h1": ha, "h2": h, "p1": pa, "p2": pa})
    rows_out.append({"h1": hb, "h2": h, "p1": pb, "p2": pb})
    rows_out.append({"h1": h, "h2": h, "p1": pa, "p2": pb})
    return (pa + pb) / 2, h


seg_r, seg_c = [], []
segments(g_row_tree, seg_r)
segments(g_col_tree, seg_c)
panel_dr = alt.Chart(pd.DataFrame(seg_r)).mark_rule(color="#888888", strokeWidth=0.7).encode(
    x=alt.X("h1:Q", scale=qs([0, 20.5], 437.3, 417), axis=None), x2="h2:Q",
    y=alt.Y("p1:Q", scale=qs([-0.5, 99.5], 505.7, 1206), axis=None), y2="p2:Q")
panel_dc = alt.Chart(pd.DataFrame(seg_c)).mark_rule(color="#888888", strokeWidth=0.7).encode(
    x=alt.X("p1:Q", scale=qs([-0.5, 5.5], 437.3, 609.3), axis=None), x2="p2:Q",
    y=alt.Y("h1:Q", scale=qs([0, 8.4], 505.7, 497.3), axis=None), y2="h2:Q")

# ---------- titles and panel letters ----------
titles = notes([
    ("lncRNA vs mRNA on ORF length", 203, 766.5, 12, "#222222"),
    ("lncRNA vs mRNA on fpkm value", 207.7, 1001.5, 13.6, "#222222"),
    ("HF\u2212vs\u2212AF volcano", 539.7, 33.3, 13.3, "#222222"),
])
letters = notes([
    ("A", 14, 22.5, 14.5, "#111111"), ("B", 14, 283, 15, "#111111"), ("C", 14, 548, 15, "#111111"),
    ("D", 14, 769, 15, "#111111"), ("E", 14, 994, 15, "#111111"), ("F", 368, 22.5, 14.5, "#111111"),
    ("G", 368, 497, 15, "#111111"),
], weight="bold")

chart = alt.layer(
    panel_a, a_notes, panel_b, axes_b, panel_c, axes_c, panel_d, axes_d, panel_e, axes_e, panel_f, axes_f, panel_fkey,
    panel_g_under, panel_g, panel_dr, panel_dc, titles, letters,
).resolve_scale(
    x="independent", y="independent", color="independent", stroke="independent", size="independent", xOffset="independent"
).resolve_axis(x="independent", y="independent").properties(
    width=CANVAS_W, height=CANVAS_H, padding=0, autosize=alt.AutoSizeParams(type="none"), background="#ffffff"
).configure_view(stroke=None).configure_axis(labelFont=FONT, titleFont=FONT).configure_text(font=FONT)

chart.save("out.html", embed_options={"renderer": "svg", "actions": False})
